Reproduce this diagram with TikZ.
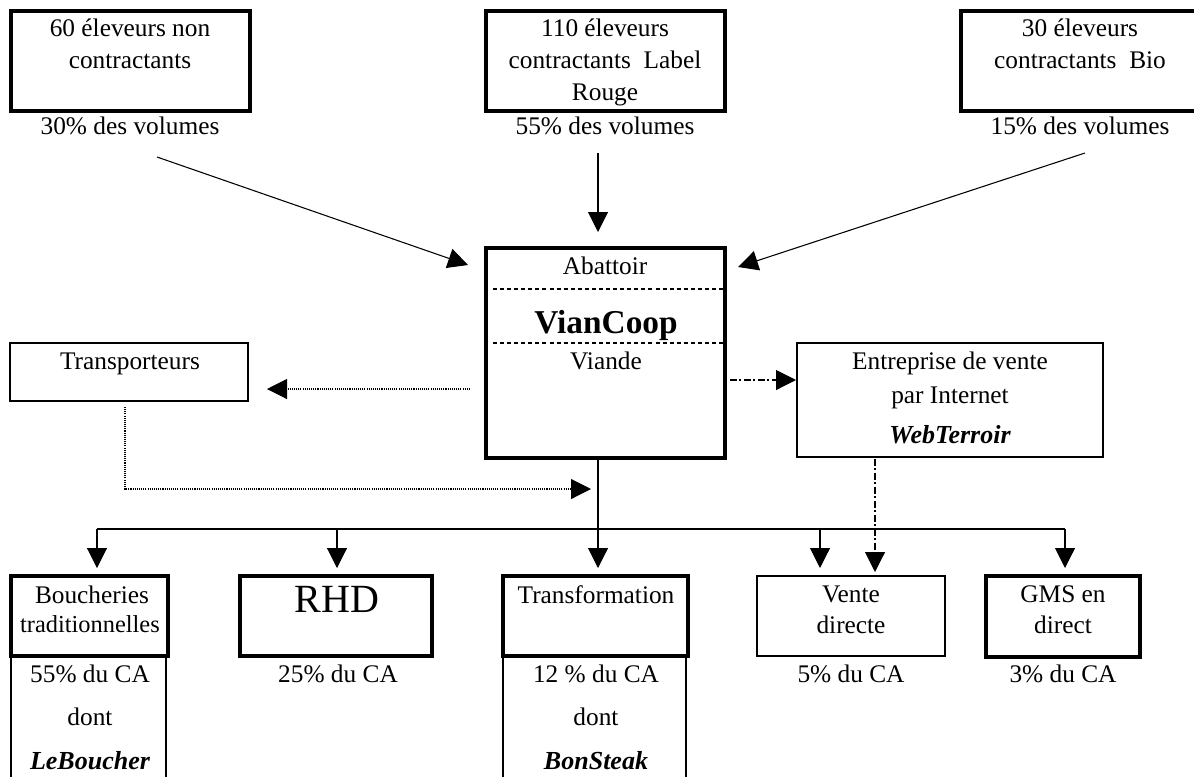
\documentclass[tikz,border=0pt]{standalone}
\usepackage{fontspec}
\setmainfont{Liberation Serif}
\usetikzlibrary{arrows.meta,fit}
\begin{document}
\begin{tikzpicture}[x=0.75pt,y=-0.75pt,
  tk/.style={draw,line width=2.3pt,inner sep=0pt},
  md/.style={draw,line width=1.7pt,inner sep=0pt},
  tn/.style={draw,line width=0.9pt,inner sep=0pt},
  tx/.style={font=\fontsize{19}{22}\selectfont,anchor=base,inner sep=0pt},
  sm/.style={font=\fontsize{18.3}{20}\selectfont,anchor=base,inner sep=0pt},
  big/.style={font=\fontsize{30}{32}\selectfont,anchor=base,inner sep=0pt},
  bold/.style={font=\fontsize{25}{28}\selectfont\bfseries,anchor=base,inner sep=0pt},
  bx/.style={font=\fontsize{19.5}{22}\selectfont\bfseries\itshape,anchor=base,inner sep=0pt},
  tip/.style={-{Triangle[length=15pt,width=15pt]}},
  ln/.style={line width=0.8pt},
  dot/.style={line width=0.8pt,dash pattern=on 0.8pt off 0.8pt},
  dd/.style={line width=0.8pt,dash pattern=on 5pt off 2pt on 1.5pt off 2pt},
  sep/.style={line width=0.8pt,dash pattern=on 3pt off 2.3pt},
]
\useasboundingbox (0,0) rectangle (1194,776);
\fill[white] (0,0) rectangle (1194,776);

% top boxes
\node[tk,fit={(11,11)(250,111)}] (b1) {};
\node[tk,fit={(486,11)(725,111)}] (b2) {};
\node[tk,fit={(961,11)(1215,111)}] (b3) {};
\node[tx] (b1a) at (130,36) {60 éleveurs non};
\node[tx] (b1b) at (130,68) {contractants};
\node[tx] (v1) at (130,134) {30\% des volumes};
\node[tx] (b2a) at (605,36) {110 éleveurs};
\node[tx] (b2b) at (605,68) {contractants\ \ Label};
\node[tx] (b2c) at (605,100) {Rouge};
\node[tx] (v2) at (605,134) {55\% des volumes};
\node[tx] (b3a) at (1080,36) {30 éleveurs};
\node[tx] (b3b) at (1080,68) {contractants\ \ Bio};
\node[tx] (v3) at (1080,134) {15\% des volumes};

% abattoir
\node[tk,fit={(486,248)(725,458)}] (ab) {};
\draw[sep] (493,289) -- (723,289);
\draw[sep] (493,343) -- (723,343);
\node[tx] (aba) at (605,274) {Abattoir};
\node[bold] (abb) at (606,333) {VianCoop};
\node[tx] (abc) at (606,369) {Viande};

% transporteurs
\node[draw,line width=1.1pt,inner sep=0pt,fit={(10,343)(248,401)}] (tr) {};
\node[tx] (tra) at (130,369) {Transporteurs};

% entreprise
\node[md,fit={(797,343)(1103,457)}] (en) {};
\node[tx] (ena) at (950,369) {Entreprise de vente};
\node[tx] (enb) at (950,403) {par Internet};
\node[bx] (enc) at (950,443) {WebTerroir};

% top arrows
\coordinate (a1s) at (157,157); \coordinate (a1e) at (468,265);
\coordinate (a2s) at (598,153); \coordinate (a2e) at (598,232);
\coordinate (a3s) at (1085,153); \coordinate (a3e) at (738,267);
\draw[ln,tip] (a1s) -- (a1e);
\draw[ln,tip] (a2s) -- (a2e);
\draw[ln,tip] (a3s) -- (a3e);

% dotted
\coordinate (d1s) at (470,389); \coordinate (d1e) at (267,389);
\draw[dot,tip] (d1s) -- (d1e);
\coordinate (d2s) at (125,407); \coordinate (d2m) at (125,489); \coordinate (d2e) at (591,489);
\draw[dot,tip] (d2s) -- (d2m) -- (d2e);

% dash-dot
\coordinate (e1s) at (730,380); \coordinate (e1e) at (796,380);
\draw[dd,tip] (e1s) -- (e1e);
\coordinate (e2s) at (875,459); \coordinate (e2e) at (875,572);
\draw[dd,tip] (e2s) -- (e2e);

% tree
\coordinate (t0) at (598,459); \coordinate (t0e) at (598,568);
\coordinate (hL) at (97,529); \coordinate (hR) at (1065,529);
\coordinate (h2) at (337,529); \coordinate (h4) at (820,529);
\draw[ln,tip] (t0) -- (t0e);
\draw[ln] (hL) -- (hR);
\draw[ln,tip] (hL) -- (97,568);
\draw[ln,tip] (h2) -- (337,568);
\draw[ln,tip] (h4) -- (820,568);
\draw[ln,tip] (hR) -- (1065,568);

% bottom boxes
\node[tk,fit={(11,576)(168,656)}] (bo) {};
\node[tn,fit={(11,656)(166,800)}] (bol) {};
\node[tx] (boa) at (92,603) {Boucheries};
\node[sm] (bob) at (90,632) {traditionnelles};
\node[tx] (boc) at (90,682) {55\% du CA};
\node[tx] (bod) at (90,725) {dont};
\node[bx] (boe) at (90,769) {LeBoucher};

\node[tk,fit={(240,576)(432,656)}] (rh) {};
\node[big] (rha) at (337,612) {RHD};
\node[tx] (rhb) at (338,682) {25\% du CA};

\node[tk,fit={(503,576)(688,656)}] (tf) {};
\node[tn,fit={(503,656)(686,800)}] (tfl) {};
\node[tx] (tfa) at (596,603) {Transformation};
\node[tx] (tfb) at (596,682) {12 \% du CA};
\node[tx] (tfc) at (596,725) {dont};
\node[bx] (tfd) at (596,769) {BonSteak};

\node[draw,line width=1.1pt,inner sep=0pt,fit={(757,576)(945,656)}] (vd) {};
\node[tx] (vda) at (851,602) {Vente};
\node[tx] (vdb) at (851,633) {directe};
\node[tx] (vdc) at (851,682) {5\% du CA};

\node[tk,fit={(986,576)(1140,657)}] (gm) {};
\node[tx] (gma) at (1063,602) {GMS en};
\node[tx] (gmb) at (1063,633) {direct};
\node[tx] (gmc) at (1063,682) {3\% du CA};
\end{tikzpicture}
\end{document}
